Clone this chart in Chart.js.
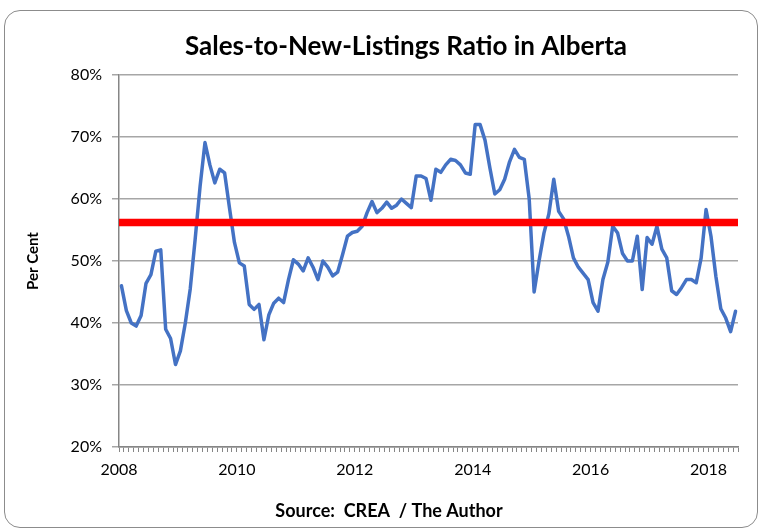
<!DOCTYPE html>
<html lang="en">
<head>
  <meta charset="UTF-8">
  <title>Sales-to-New-Listings Ratio in Alberta</title>
  <script src="https://cdn.jsdelivr.net/npm/chart.js"></script>
  <style>
    body {
      margin: 0;
      background: #fff;
    }
    #frame {
      position: absolute;
      left: 4px;
      top: 10px;
      width: 752px;
      height: 516px;
      border: 1px solid #8c8c8c;
      border-radius: 16px;
    }
    #wrap {
      position: absolute;
      left: 0;
      top: 0;
      width: 763px;
      height: 531px;
    }
  </style>
</head>
<body>
<div id="frame"></div>
<div id="wrap"><canvas id="ratioChart"></canvas></div>

<script>
  // monthly values, Jan 2008 .. Jun 2018
  const startYear = 2008;
  const ratio = [
    46.0, 42.0, 40.0, 39.5, 41.2, 46.4, 47.8, 51.6, 51.8, 39.0, 37.5, 33.3,
    35.5, 40.0, 45.5, 53.5, 62.0, 69.1, 65.5, 62.6, 64.8, 64.2, 58.5, 53.0,
    49.7, 49.2, 43.0, 42.2, 43.0, 37.3, 41.3, 43.2, 44.0, 43.3, 47.0, 50.2,
    49.5, 48.4, 50.5, 49.0, 47.0, 50.0, 49.0, 47.6, 48.2, 51.0, 54.0, 54.6,
    54.8, 55.6, 57.8, 59.6, 57.8, 58.5, 59.5, 58.5, 59.0, 60.0, 59.3, 58.6,
    63.7, 63.7, 63.3, 59.8, 64.8, 64.3, 65.5, 66.4, 66.2, 65.5, 64.2, 64.0,
    72.0, 72.0, 69.5, 65.0, 60.8, 61.5, 63.2, 66.0, 68.0, 66.7, 66.4, 60.0,
    45.0, 50.0, 54.5, 57.6, 63.2, 58.0, 56.8, 54.0, 50.5, 49.0, 48.0, 47.0,
    43.3, 41.9, 47.0, 49.8, 55.6, 54.5, 51.2, 50.0, 50.0, 54.0, 45.4, 53.8,
    52.7, 55.6, 51.9, 50.5, 45.2, 44.6, 45.7, 47.0, 47.0, 46.5, 50.5, 58.3,
    54.0, 47.5, 42.3, 40.8, 38.6, 41.9
  ];
  const averageRatio = 56.2;
  const yTicks = [20, 30, 40, 50, 60, 70, 80];
  const months = ratio.length;

  const chartTitle = 'Sales-to-New-Listings Ratio in Alberta';
  const sourceText = 'Source:  CREA  / The Author';

  // titles sit off-centre in the original, so they are placed by hand
  const captions = {
    id: 'captions',
    afterDraw(chart) {
      const ctx = chart.ctx;
      ctx.save();
      ctx.fillStyle = '#000';
      ctx.textAlign = 'center';
      ctx.textBaseline = 'middle';
      ctx.font = 'bold 26px Lato';
      ctx.fillText(chartTitle, 406, 47);
      ctx.font = 'bold 18px Lato';
      ctx.fillText(sourceText, 389, 511);
      ctx.restore();
    }
  };

  new Chart(document.getElementById('ratioChart'), {
    type: 'line',
    data: {
      datasets: [
        {
          label: 'Average',
          data: [{x: 0, y: averageRatio}, {x: months, y: averageRatio}],
          borderColor: '#ff0000',
          borderWidth: 7.5,
          pointRadius: 0,
          borderCapStyle: 'butt'
        },
        {
          label: 'Sales-to-new-listings ratio',
          data: ratio.map((v, i) => ({x: i + 0.5, y: v})),
          borderColor: '#4472c4',
          borderWidth: 3.5,
          pointRadius: 0,
          tension: 0,
          borderJoinStyle: 'round',
          borderCapStyle: 'round'
        }
      ]
    },
    options: {
      responsive: true,
      maintainAspectRatio: false,
      animation: false,
      layout: { padding: { top: 75, right: 25, bottom: 0, left: 0 } },
      plugins: {
        legend: { display: false },
        tooltip: { enabled: false },
        title: { display: false }
      },
      scales: {
        x: {
          type: 'linear',
          min: 0,
          max: months,
          afterFit: (axis) => { axis.height = 84; },
          ticks: {
            stepSize: 1,
            autoSkip: false,
            maxRotation: 0,
            color: '#000',
            padding: 8,
            font: { family: 'Lato', size: 16 },
            callback: (v) => (v % 24 === 0 ? String(startYear + v / 12) : '')
          },
          grid: {
            drawOnChartArea: false,
            drawTicks: true,
            tickLength: 5,
            color: '#868686'
          },
          border: { color: '#868686', width: 1.5 }
        },
        y: {
          min: yTicks[0],
          max: yTicks[yTicks.length - 1],
          afterFit: (axis) => { axis.width = 119; },
          afterBuildTicks: (axis) => { axis.ticks = yTicks.map(v => ({value: v})); },
          ticks: {
            color: '#000',
            padding: 10,
            font: { family: 'Lato', size: 16 },
            callback: (v) => v + '%'
          },
          grid: { color: '#a6a6a6', lineWidth: 1.5, tickLength: 7 },
          border: { color: '#868686', width: 1.5 },
          title: {
            display: true,
            text: 'Per Cent',
            color: '#000',
            font: { family: 'Lato', size: 15, weight: 'bold' },
            padding: { top: 24, bottom: 0 }
          }
        }
      }
    },
    plugins: [captions]
  });
</script>
</body>
</html>
